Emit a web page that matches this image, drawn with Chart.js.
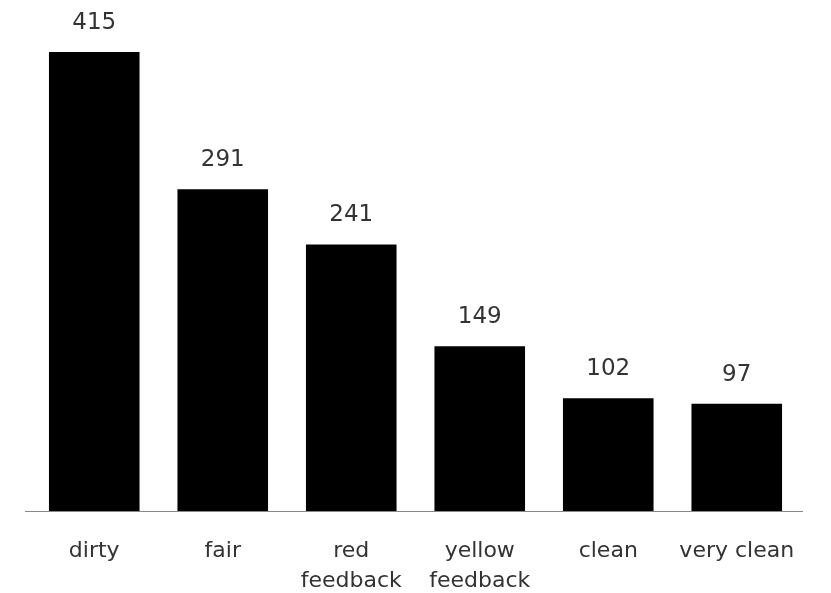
<!DOCTYPE html>
<html><head><meta charset="utf-8">
<script src="https://cdn.jsdelivr.net/npm/chart.js@4"></script>
<style>html,body{margin:0;padding:0;background:#fff;}#wrap{width:831px;height:593px;}</style>
</head><body><div id="wrap"><canvas id="c"></canvas></div>
<script>
const categories = [["dirty"], ["fair"], ["red", "feedback"], ["yellow", "feedback"], ["clean"], ["very clean"]];
const counts = [415, 291, 241, 149, 102, 97];

const FONT = "'DejaVu Sans', sans-serif";
const valueLabels = {
  id: 'valueLabels',
  afterDatasetsDraw(chart) {
    const ctx = chart.ctx;
    const meta = chart.getDatasetMeta(0);
    ctx.save();
    ctx.font = "23px " + FONT;
    ctx.fillStyle = '#333';
    ctx.textAlign = 'center';
    ctx.textBaseline = 'alphabetic';
    meta.data.forEach((bar, i) => {
      ctx.fillText(String(counts[i]), bar.x, bar.y - 23);
    });
    // baseline rule, slightly wider than the category band
    const a = chart.chartArea;
    ctx.strokeStyle = '#888';
    ctx.lineWidth = 1;
    ctx.beginPath();
    ctx.moveTo(a.left - 5, Math.round(a.bottom) + 0.5);
    ctx.lineTo(a.right + 2, Math.round(a.bottom) + 0.5);
    ctx.stroke();
    ctx.restore();
  }
};

new Chart(document.getElementById('c'), {
  type: 'bar',
  data: { labels: categories, datasets: [{ data: counts, backgroundColor: '#000', barPercentage: 0.705, categoryPercentage: 1.0 }] },
  options: {
    responsive: true, maintainAspectRatio: false, animation: false,
    layout: { padding: { left: 30, right: 30, top: 0, bottom: 0 } },
    plugins: { legend: { display: false }, tooltip: { enabled: false } },
    scales: {
      x: {
        grid: { display: false, drawTicks: false },
        border: { display: false },
        afterFit(scale) { scale.height = 82; },
        ticks: { color: '#333', font: { family: FONT, size: 22, lineHeight: 1.33 }, padding: 26, maxRotation: 0, autoSkip: false }
      },
      y: { display: false, min: 0, max: 462 }
    }
  },
  plugins: [valueLabels]
});
</script></body></html>
